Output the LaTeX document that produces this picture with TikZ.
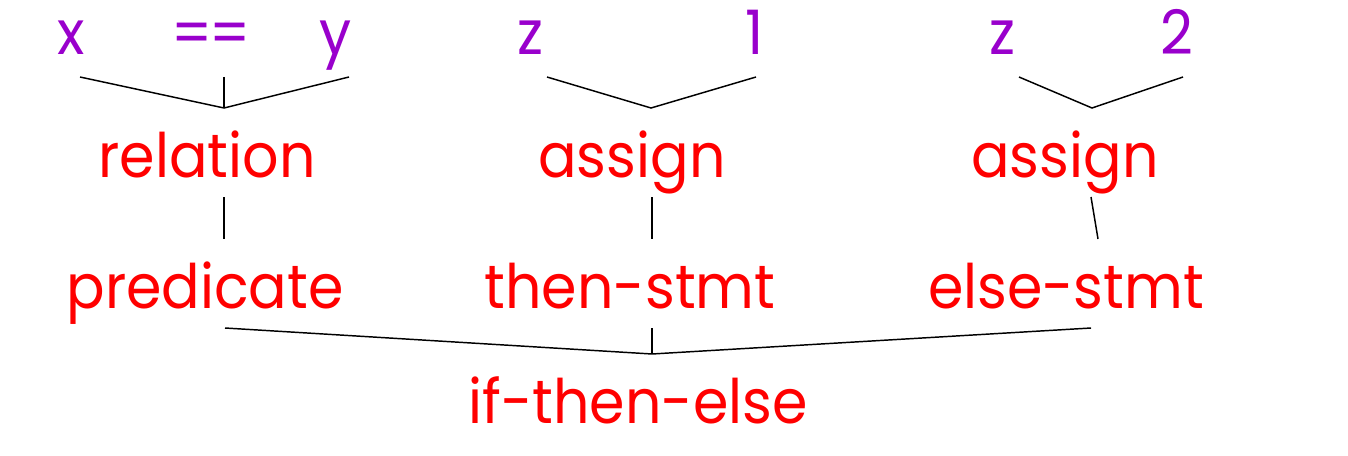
\documentclass[tikz,border=0pt]{standalone}
\usepackage{fontspec}
\setmainfont{Poppins}[FakeStretch=0.93]
\usetikzlibrary{positioning}
\definecolor{leafpurple}{RGB}{153,0,204}
\definecolor{rulered}{RGB}{255,0,0}

\begin{document}
\begin{tikzpicture}[x=0.75pt, y=-0.75pt,
    every node/.style={font=\fontsize{46}{52}\selectfont, anchor=base, inner sep=0pt},
    leaf/.style={text=leafpurple},
    cat/.style={text=rulered},
    edge/.style={line width=1.1pt, black}]
    \useasboundingbox (0,0) rectangle (1348,456);

    % leaves
    \node[leaf] (x) at (71,55) {x};
    \node[leaf] (eq) at (211,55) {=\kern-2pt=};
    \node[leaf] (y) at (336,55) {y};
    \node[leaf] (z1) at (530,55) {z};
    \node[leaf] (one) at (755,55) {1};
    \node[leaf] (z2) at (1002,55) {z};
    \node[leaf] (two) at (1177,55) {2};

    % categories
    \node[cat] (rel) at (207,177) {relation};
    \node[cat] (asg1) at (632,177) {assign};
    \node[cat] (asg2) at (1065,177) {assign};
    \node[cat] (pred) at (205,308) {predicate};
    \node[cat] (thn) at (630,308) {then-stmt};
    \node[cat] (els) at (1066,308) {else-stmt};
    \node[cat] (ite) at (638,423) {if-then-else};

    % branch points
    \coordinate (x-e) at (80,77);
    \coordinate (eq-e) at (224,77);
    \coordinate (y-e) at (349,77);
    \coordinate (rel-j) at (224,108);
    \coordinate (z1-e) at (547,77);
    \coordinate (one-e) at (756,77);
    \coordinate (asg1-j) at (651,108);
    \coordinate (z2-e) at (1019,77);
    \coordinate (two-e) at (1183,77);
    \coordinate (asg2-j) at (1092,108);
    \coordinate (rel-b) at (224,197);
    \coordinate (pred-t) at (224,239);
    \coordinate (asg1-b) at (652,197);
    \coordinate (thn-t) at (652,239);
    \coordinate (asg2-b) at (1091,197);
    \coordinate (els-t) at (1098,239);
    \coordinate (pred-e) at (225,328);
    \coordinate (thn-e) at (652,328);
    \coordinate (els-e) at (1091,328);
    \coordinate (ite-j) at (652,354);

    \draw[edge] (x-e) -- (rel-j) -- (y-e);
    \draw[edge] (eq-e) -- (rel-j);
    \draw[edge] (z1-e) -- (asg1-j) -- (one-e);
    \draw[edge] (z2-e) -- (asg2-j) -- (two-e);
    \draw[edge] (rel-b) -- (pred-t);
    \draw[edge] (asg1-b) -- (thn-t);
    \draw[edge] (asg2-b) -- (els-t);
    \draw[edge] (pred-e) -- (ite-j) -- (els-e);
    \draw[edge] (thn-e) -- (ite-j);
\end{tikzpicture}
\end{document}
